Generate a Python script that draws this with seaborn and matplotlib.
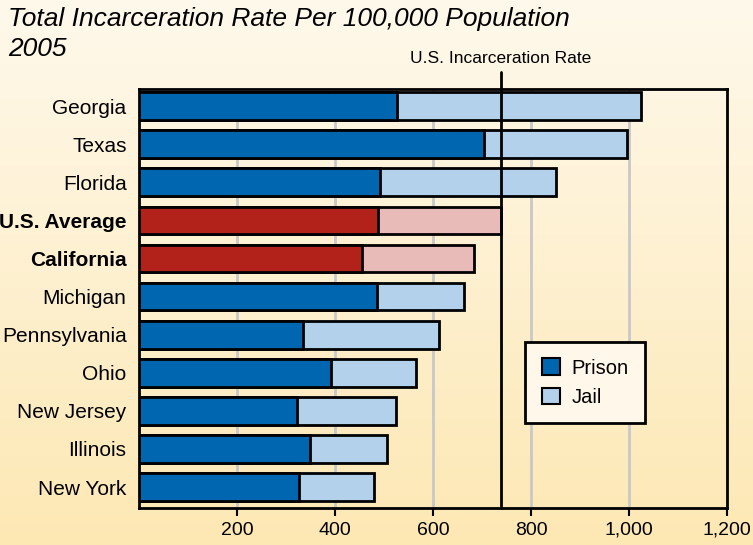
import numpy as np
import pandas as pd
import matplotlib
matplotlib.use('Agg')
import matplotlib.pyplot as plt
from matplotlib.patches import Patch
import seaborn as sns

# Data
states = ['Georgia', 'Texas', 'Florida', 'U.S. Average', 'California', 'Michigan',
          'Pennsylvania', 'Ohio', 'New Jersey', 'Illinois', 'New York']
prison = [526, 704, 492, 488, 455, 486, 335, 392, 322, 349, 327]
jail = [498, 292, 359, 251, 229, 177, 277, 173, 202, 157, 153]
us_rate = 738
xticks = [200, 400, 600, 800, 1000, 1200]
xticklabels = ['200', '400', '600', '800', '1,000', '1,200']

df = pd.DataFrame({'state': states, 'prison': prison, 'jail': jail})
df['total'] = df['prison'] + df['jail']

highlight = ['U.S. Average', 'California']
dark = ['#b3221a' if s in highlight else '#0066b0' for s in states]
light = ['#e8bbb9' if s in highlight else '#b3d1ea' for s in states]

sns.set_style('white')
plt.rcParams['font.family'] = ['Liberation Sans', 'DejaVu Sans']
plt.rcParams['text.color'] = 'black'
plt.rcParams['xtick.color'] = 'black'
plt.rcParams['ytick.color'] = 'black'

fig = plt.figure(figsize=(7.53, 5.45), dpi=100)

# gradient background
bg = fig.add_axes([0, 0, 1, 1], zorder=-10)
grad = np.linspace(0, 1, 256).reshape(-1, 1)
cmap = matplotlib.colors.LinearSegmentedColormap.from_list('bg', ['#fff9ec', '#fde8b4'])
bg.imshow(grad, aspect='auto', cmap=cmap, extent=[0, 1, 0, 1], origin='upper')
bg.axis('off')

ax = fig.add_axes([0.1846, 0.0679, 0.7809, 0.7688])
ax.set_facecolor('none')

sns.barplot(data=df, y='state', x='total', hue='state', palette=light, legend=False,
            orient='h', width=0.73, saturation=1, edgecolor='black', linewidth=2,
            ax=ax, zorder=3)
sns.barplot(data=df, y='state', x='prison', hue='state', palette=dark, legend=False,
            orient='h', width=0.73, saturation=1, edgecolor='black', linewidth=2,
            ax=ax, zorder=4)

ax.set_xlim(0, 1200)
ax.set_ylim(len(states) - 0.45, -0.45)
ax.set_xticks(xticks)
ax.set_xticklabels(xticklabels, fontsize=14)
ax.set_xlabel('')
ax.set_ylabel('')
ax.tick_params(axis='y', length=0, labelsize=15, pad=9)
ax.tick_params(axis='x', length=6, width=1.5, direction='out', pad=4, bottom=True)
for lab in ax.get_yticklabels():
    if lab.get_text() in highlight:
        lab.set_fontweight('bold')

ax.xaxis.grid(True, color='#c8c8c8', linewidth=2, zorder=0)
ax.set_axisbelow(True)
for sp in ax.spines.values():
    sp.set_visible(True)
    sp.set_color('black')
    sp.set_linewidth(2)

# U.S. incarceration rate line
ax.axvline(us_rate, ymin=0, ymax=1.04, color='black', linewidth=2, zorder=6, clip_on=False)
ax.text(us_rate, 1.055, 'U.S. Incarceration Rate', transform=ax.get_xaxis_transform(),
        ha='center', va='bottom', fontsize=12.5)

handles = [Patch(facecolor='#0066b0', edgecolor='black', linewidth=1.5, label='Prison'),
           Patch(facecolor='#b3d1ea', edgecolor='black', linewidth=1.5, label='Jail')]
leg = ax.legend(handles=handles, loc='upper left', bbox_to_anchor=(0.64, 0.42),
                fontsize=14.5, frameon=True, fancybox=False, handlelength=0.9,
                handleheight=0.9, borderpad=0.8, labelspacing=0.5, handletextpad=0.6)
leg.get_frame().set_facecolor('#fff8ea')
leg.get_frame().set_edgecolor('black')
leg.get_frame().set_linewidth(2)
leg.get_frame().set_alpha(1)
leg.set_zorder(10)

fig.text(0.011, 0.966, 'Total Incarceration Rate Per 100,000 Population',
         ha='left', va='center', fontsize=19, style='italic')
fig.text(0.011, 0.910, '2005', ha='left', va='center', fontsize=19, style='italic')

fig.savefig('out.png', dpi=100)
